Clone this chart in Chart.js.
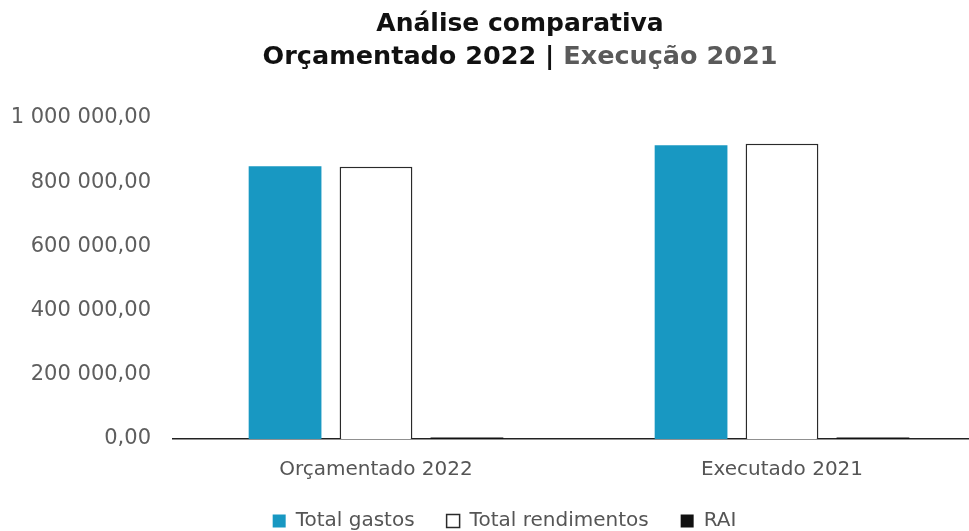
<!DOCTYPE html>
<html>
<head>
<meta charset="utf-8">
<script src="https://cdn.jsdelivr.net/npm/chart.js@4"></script>
<style>
  html, body { margin: 0; padding: 0; background: #fff; }
  #wrap { width: 969px; height: 531px; }
</style>
</head>
<body>
<div id="wrap"><canvas id="compChart" width="969" height="531"></canvas></div>
<script>
// data
const categories = ["Orçamentado 2022", "Executado 2021"];
const totalGastos = [850000, 915000];
const totalRendimentos = [848000, 920000];
const rai = [5000, 5000];
const yTicks = [0, 200000, 400000, 600000, 800000, 1000000];

const titleLine1 = "Análise comparativa";
const titleLine2a = "Orçamentado 2022 | ";
const titleLine2b = "Execução 2021";

const FONT = "'DejaVu Sans', Verdana, sans-serif";

// 1 000 000,00 style
function formatPt(v) {
    const parts = Math.round(v).toString().replace(/\B(?=(\d{3})+(?!\d))/g, " ");
    return parts + ",00";
}

// two-line title with the second part in grey
const titlePlugin = {
    id: "twoToneTitle",
    afterDraw(chart) {
        const ctx = chart.ctx;
        const cx = 520;
        ctx.save();
        ctx.font = "bold 25px " + FONT;
        ctx.textBaseline = "middle";
        ctx.textAlign = "center";
        ctx.fillStyle = "#111";
        ctx.fillText(titleLine1, cx, 24);

        ctx.font = "bold 25.5px " + FONT;
        const w1 = ctx.measureText(titleLine2a).width;
        const w2 = ctx.measureText(titleLine2b).width;
        const start = cx - (w1 + w2) / 2;
        ctx.textAlign = "left";
        ctx.fillStyle = "#111";
        ctx.fillText(titleLine2a, start, 57);
        ctx.fillStyle = "#5a5a5a";
        ctx.fillText(titleLine2b, start + w1, 57);
        ctx.restore();
    }
};

// the original picture is cropped on the right: the x scale runs past the canvas,
// and the legend sits a bit right of the canvas centre
const layoutTweak = {
    id: "layoutTweak",
    afterLayout(chart) {
        const x = chart.scales.x;
        x.right += 16;
        x.width += 16;
        x.configure();
        chart.legend.left += 20;
        chart.legend.right += 20;
    }
};

document.addEventListener("DOMContentLoaded", function () {
    setupChart();
});

function setupChart() {
    const ctx = document.getElementById("compChart").getContext("2d");

    new Chart(ctx, {
        type: "bar",
        data: {
            labels: categories,
            datasets: [
                {
                    label: "Total gastos",
                    data: totalGastos,
                    backgroundColor: "#1898c2",
                    borderColor: "#1898c2",
                    borderWidth: 0,
                },
                {
                    label: "Total rendimentos",
                    data: totalRendimentos,
                    backgroundColor: "#ffffff",
                    borderColor: "#2a2a2a",
                    borderWidth: 1.5,
                },
                {
                    label: "RAI",
                    data: rai,
                    backgroundColor: "#111111",
                    borderColor: "#111111",
                    borderWidth: 0,
                },
            ],
        },
        options: {
            responsive: false,
            animation: false,
            layout: {
                padding: { top: 118, right: 0, left: 0, bottom: -10 },
            },
            datasets: {
                bar: {
                    categoryPercentage: 0.672,
                    barPercentage: 0.8,
                },
            },
            plugins: {
                legend: {
                    position: "bottom",
                    labels: {
                        color: "#555",
                        font: { family: FONT, size: 20 },
                        boxWidth: 13,
                        boxHeight: 13,
                        padding: 32,
                    },
                },
                tooltip: { enabled: false },
            },
            scales: {
                x: {
                    grid: {
                        display: false,
                        drawTicks: false,
                    },
                    border: { display: true, color: "#222", width: 1.5 },
                    afterFit(axis) {
                        axis.height -= 22;
                    },
                    ticks: {
                        color: "#555",
                        padding: 19,
                        font: { family: FONT, size: 20 },
                    },
                },
                y: {
                    min: 0,
                    max: 1000000,
                    grid: { display: false, drawTicks: false },
                    border: { display: false },
                    afterBuildTicks(axis) {
                        axis.ticks = yTicks.map(v => ({ value: v }));
                    },
                    afterFit(axis) {
                        axis.width = 173;
                    },
                    ticks: {
                        color: "#5e5e5e",
                        padding: 22,
                        font: { family: FONT, size: 21 },
                        callback: v => formatPt(v),
                    },
                },
            },
        },
        plugins: [titlePlugin, layoutTweak],
    });
}
</script>
</body>
</html>
